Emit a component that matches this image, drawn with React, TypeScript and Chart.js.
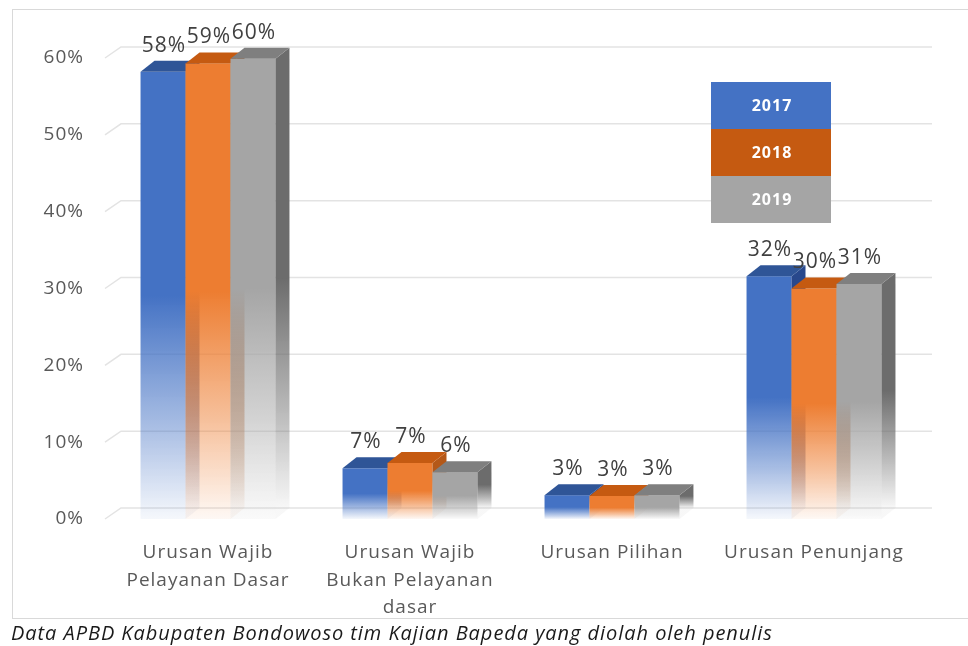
import React, { useEffect, useRef } from 'react';
import { Chart, registerables } from 'chart.js';

Chart.register(...registerables);

const categories = [
  ['Urusan Wajib', 'Pelayanan Dasar'],
  ['Urusan Wajib', 'Bukan Pelayanan', 'dasar'],
  'Urusan Pilihan',
  'Urusan Penunjang',
];
const seriesLabels = ['2017', '2018', '2019'];
const values2017 = [58.2, 6.6, 3.1, 31.6];
const values2018 = [59.3, 7.3, 3.0, 30.0];
const values2019 = [59.9, 6.1, 3.1, 30.6];
const yTicks = [0, 10, 20, 30, 40, 50, 60];

const frontColors = ['68,114,196', '237,125,49', '165,165,165'];
const topColors = ['#2F5597', '#C55A11', '#7F7F7F'];
const sideColors = ['40,72,140', '180,88,24', '108,108,108'];
const legendColors = ['#4472C4', '#C55A11', '#A5A5A5'];

const FONT = '"Open Sans"';
const DX = 14;
const DY = 11;

const spacing = {
  id: 'spacing',
  beforeUpdate(chart: any) {
    chart.ctx.letterSpacing = '1px';
  },
  beforeDraw(chart: any) {
    chart.ctx.letterSpacing = '1px';
  },
};

const grid3d = {
  id: 'grid3d',
  beforeDatasetsDraw(chart: any) {
    const { ctx, chartArea, scales } = chart;
    const ys = scales.y;
    ctx.save();
    ctx.strokeStyle = '#e3e3e3';
    ctx.lineWidth = 1.5;
    for (const v of yTicks) {
      const py = ys.getPixelForValue(v);
      ctx.beginPath();
      ctx.moveTo(chartArea.left - 2, py);
      ctx.lineTo(chartArea.left + DX, py - DY);
      ctx.lineTo(chartArea.right + DX + 3, py - DY);
      ctx.stroke();
    }
    ctx.restore();
  },
};

function grad(ctx: CanvasRenderingContext2D, top: number, bottom: number, rgb: string) {
  const g = ctx.createLinearGradient(0, top, 0, bottom);
  g.addColorStop(0, `rgba(${rgb},1)`);
  g.addColorStop(0.5, `rgba(${rgb},1)`);
  g.addColorStop(0.8, `rgba(${rgb},0.45)`);
  g.addColorStop(1, `rgba(${rgb},0.05)`);
  return g;
}

const bar3d = {
  id: 'bar3d',
  afterDatasetsDraw(chart: any) {
    const ctx: CanvasRenderingContext2D = chart.ctx;
    ctx.save();
    chart.data.datasets.forEach((ds: any, di: number) => {
      const meta = chart.getDatasetMeta(di);
      meta.data.forEach((el: any) => {
        const { x, y, base, width } = el.getProps(['x', 'y', 'base', 'width'], true);
        const l = x - width / 2;
        const r = x + width / 2;
        ctx.fillStyle = grad(ctx, y, base, frontColors[di]);
        ctx.fillRect(l, y, width, base - y);
        ctx.fillStyle = grad(ctx, y - DY, base - DY, sideColors[di]);
        ctx.beginPath();
        ctx.moveTo(r, y);
        ctx.lineTo(r + DX, y - DY);
        ctx.lineTo(r + DX, base - DY);
        ctx.lineTo(r, base);
        ctx.closePath();
        ctx.fill();
        ctx.fillStyle = topColors[di];
        ctx.beginPath();
        ctx.moveTo(l, y);
        ctx.lineTo(l + DX, y - DY);
        ctx.lineTo(r + DX, y - DY);
        ctx.lineTo(r, y);
        ctx.closePath();
        ctx.fill();
      });
    });
    ctx.fillStyle = '#404040';
    ctx.font = `21px ${FONT}`;
    ctx.textAlign = 'center';
    ctx.textBaseline = 'middle';
    chart.data.datasets.forEach((ds: any, di: number) => {
      const meta = chart.getDatasetMeta(di);
      meta.data.forEach((el: any, i: number) => {
        const { x, y } = el.getProps(['x', 'y'], true);
        ctx.fillText(Math.round(ds.data[i]) + '%', x + 1, y - 26);
      });
    });
    ctx.restore();
  },
  afterDraw(chart: any) {
    const ctx: CanvasRenderingContext2D = chart.ctx;
    const lx = 711;
    const ly = 82;
    const w = 120;
    const h = 47;
    ctx.save();
    ctx.font = `bold 16px ${FONT}`;
    ctx.textAlign = 'center';
    ctx.textBaseline = 'middle';
    chart.data.datasets.forEach((ds: any, di: number) => {
      ctx.fillStyle = legendColors[di];
      ctx.fillRect(lx, ly + di * h, w, h);
      ctx.fillStyle = '#ffffff';
      ctx.fillText(ds.label, lx + w / 2 + 1, ly + di * h + h / 2 + 1);
    });
    ctx.restore();
  },
};

export default function App() {
  const ref = useRef<HTMLCanvasElement>(null);
  useEffect(() => {
    if (!ref.current) return;
    Chart.defaults.font.family = FONT;
    const seriesValues = [values2017, values2018, values2019];
    const chart = new Chart(ref.current, {
      type: 'bar',
      data: {
        labels: categories as any,
        datasets: seriesLabels.map((label, i) => ({
          label,
          data: seriesValues[i],
          backgroundColor: 'rgba(0,0,0,0)',
          borderWidth: 0,
          barPercentage: 1,
          categoryPercentage: 0.668,
        })),
      },
      options: {
        responsive: false,
        animation: false,
        layout: { padding: { left: 0, top: 58, right: 53, bottom: 0 } },
        plugins: { legend: { display: false }, tooltip: { enabled: false } },
        scales: {
          x: {
            grid: { display: false, drawTicks: false },
            border: { display: false },
            ticks: {
              color: '#595959',
              font: { family: FONT, size: 19, lineHeight: 1.45 },
              padding: 20,
              maxRotation: 0,
              autoSkip: false,
            },
            afterFit: (s: any) => {
              s.height = 127;
            },
          },
          y: {
            min: 0,
            max: 60,
            grid: { display: false, drawTicks: false },
            border: { display: false },
            ticks: {
              stepSize: 10,
              color: '#595959',
              font: { family: FONT, size: 19 },
              padding: 23,
              callback: (v: any) => v + '%',
            },
            afterFit: (s: any) => {
              s.width = 107;
            },
          },
        },
      },
      plugins: [spacing, grid3d, bar3d],
    });
    return () => chart.destroy();
  }, []);

  return (
    <div style={{ position: 'fixed', left: 0, top: 0, width: 968, height: 646, background: '#fff', overflow: 'hidden' }}>
      <div style={{ position: 'absolute', left: 12, top: 9, width: 970, height: 608, border: '1px solid #d9d9d9' }} />
      <canvas ref={ref} width={968} height={646} style={{ position: 'absolute', left: 0, top: 0, width: 968, height: 646 }} />
      <div
        style={{
          position: 'absolute',
          left: 11,
          top: 620,
          fontFamily: FONT,
          fontStyle: 'italic',
          fontSize: 20,
          letterSpacing: '0.95px',
          color: '#1a1a1a',
          whiteSpace: 'nowrap',
          lineHeight: '26px',
        }}
      >
        Data APBD Kabupaten Bondowoso tim Kajian Bapeda yang diolah oleh penulis
      </div>
    </div>
  );
}
